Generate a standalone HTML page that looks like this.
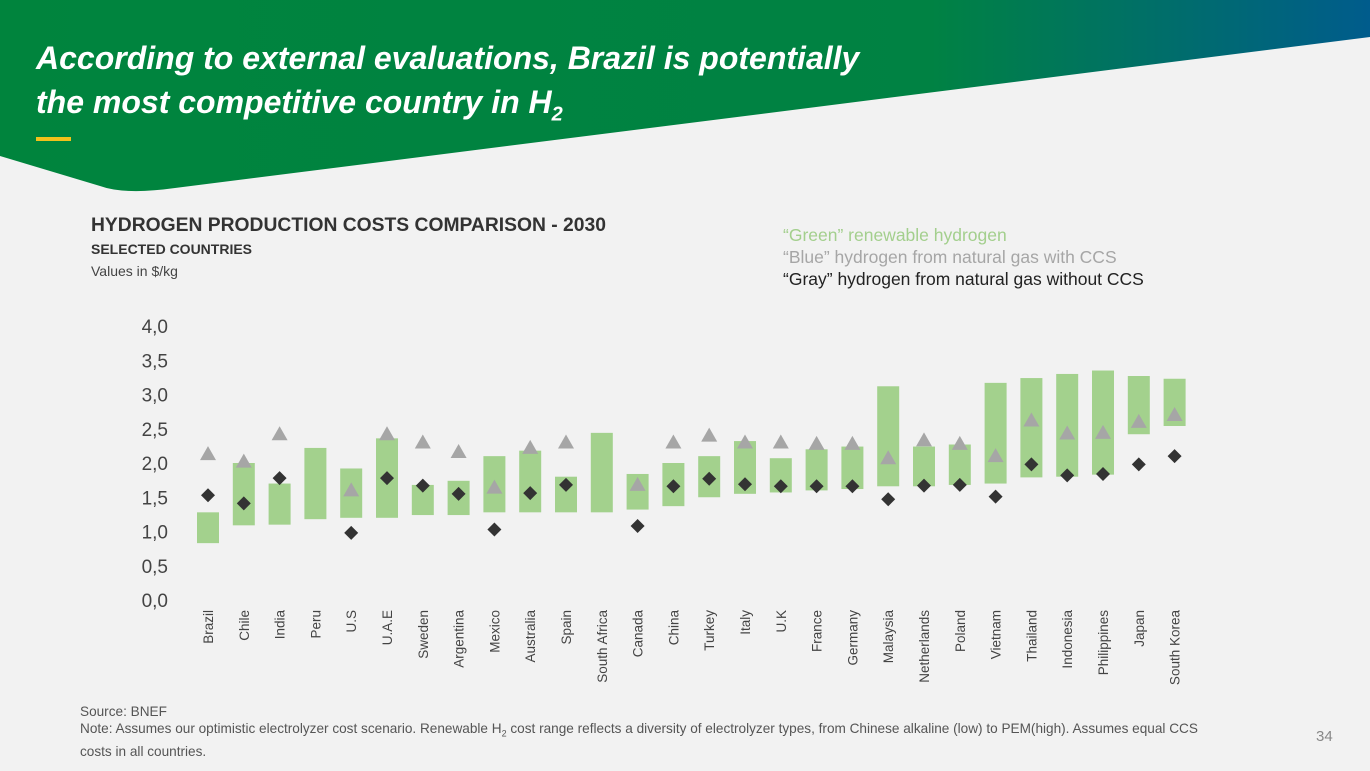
<!DOCTYPE html>
<html><head><meta charset="utf-8"><style>
body{margin:0;width:1370px;height:771px;background:#f2f2f2;overflow:hidden;font-family:"Liberation Sans",sans-serif;position:relative}
.t{position:absolute;margin:0}
</style></head><body>
<svg style="position:absolute;left:0;top:0" width="1370" height="200">
<defs><linearGradient id="g" x1="0" x2="1" y1="0" y2="0"><stop offset="0" stop-color="#00843d"/><stop offset="0.68" stop-color="#008243"/><stop offset="1" stop-color="#005c8c"/></linearGradient></defs>
<path d="M0,0 H1370 V37 L175,188 Q125,195 100,186 L0,156 Z" fill="url(#g)"/>
<rect x="36" y="137" width="35" height="4" fill="#f2c11b"/>
</svg>
<div class="t" style="left:36px;top:36px;color:#fff;font-size:32px;font-weight:bold;font-style:italic;line-height:44px">According to external evaluations, Brazil is potentially<br>the most competitive country in H<sub style="font-size:20px">2</sub></div>
<div class="t" style="left:91px;top:215px;font-size:19.3px;font-weight:bold;color:#333">HYDROGEN PRODUCTION COSTS COMPARISON - 2030</div>
<div class="t" style="left:91px;top:241px;font-size:14px;font-weight:bold;color:#333">SELECTED COUNTRIES</div>
<div class="t" style="left:91px;top:263px;font-size:14px;color:#444">Values in $/kg</div>
<div class="t" style="left:783px;top:225px;font-size:17.5px;color:#a3cf8d">“Green” renewable hydrogen</div>
<div class="t" style="left:783px;top:247px;font-size:17.5px;color:#a6a6a6">“Blue” hydrogen from natural gas with CCS</div>
<div class="t" style="left:783px;top:269px;font-size:17.5px;color:#222">“Gray” hydrogen from natural gas without CCS</div>
<svg id="chart" style="position:absolute;left:0;top:0" width="1370" height="771"></svg>
<div class="t" style="left:80px;top:703px;font-size:13.6px;color:#555;line-height:17px">Source: BNEF<br>Note: Assumes our optimistic electrolyzer cost scenario. Renewable H<sub style="font-size:9px">2</sub> cost range reflects a diversity of electrolyzer types, from Chinese alkaline (low) to PEM(high). Assumes equal CCS<br>costs in all countries.</div>
<div class="t" style="left:1316px;top:728px;font-size:15px;color:#888">34</div>
<script>
const countries=["Brazil","Chile","India","Peru","U.S","U.A.E","Sweden","Argentina","Mexico","Australia","Spain","South Africa","Canada","China","Turkey","Italy","U.K","France","Germany","Malaysia","Netherlands","Poland","Vietnam","Thailand","Indonesia","Philippines","Japan","South Korea"];
const greenLow=[0.83,1.09,1.1,1.18,1.2,1.2,1.24,1.24,1.28,1.28,1.28,1.28,1.32,1.37,1.5,1.55,1.57,1.6,1.62,1.66,1.66,1.68,1.7,1.79,1.8,1.83,2.42,2.54];
const greenHigh=[1.28,2.0,1.7,2.22,1.92,2.36,1.68,1.74,2.1,2.18,1.8,2.44,1.84,2.0,2.1,2.32,2.07,2.2,2.24,3.12,2.24,2.27,3.17,3.24,3.3,3.35,3.27,3.23];
const blue=[2.13,2.02,2.42,null,1.6,2.42,2.3,2.16,1.64,2.22,2.3,null,1.68,2.3,2.4,2.3,2.3,2.28,2.28,2.07,2.33,2.28,2.1,2.62,2.43,2.44,2.6,2.7];
const gray=[1.53,1.41,1.78,null,0.98,1.78,1.67,1.55,1.03,1.56,1.68,null,1.08,1.66,1.77,1.69,1.66,1.66,1.66,1.47,1.67,1.68,1.51,1.98,1.82,1.84,1.98,2.1];
const yTicks=["0,0","0,5","1,0","1,5","2,0","2,5","3,0","3,5","4,0"];
const svg=document.getElementById('chart');const NS='http://www.w3.org/2000/svg';
const y=v=>600-v*68.5;const x=i=>208+i*35.8;
function mk(t,a){const e=document.createElementNS(NS,t);for(const k in a)e.setAttribute(k,a[k]);svg.appendChild(e);return e;}
yTicks.forEach((l,i)=>{const e=mk('text',{x:168,y:y(i*0.5)+7,'text-anchor':'end','font-size':19,fill:'#444','font-family':'Liberation Sans'});e.textContent=l;

});
countries.forEach((c,i)=>{
const r=mk('rect',{x:x(i)-11,y:y(greenHigh[i]),width:22,height:y(greenLow[i])-y(greenHigh[i]),fill:'#a3d18d'});


if(blue[i]!=null){const cx=x(i),cy=y(blue[i]);const t=mk('polygon',{points:`${cx},${cy-8} ${cx+8},${cy+6} ${cx-8},${cy+6}`,fill:'#a6a6a6'});

}
if(gray[i]!=null){const cx=x(i),cy=y(gray[i]);const d=mk('polygon',{points:`${cx},${cy-7} ${cx+7},${cy} ${cx},${cy+7} ${cx-7},${cy}`,fill:'#333'});

}
const tx=mk('text',{transform:`translate(${x(i)+5},610) rotate(-90)`,'text-anchor':'end','font-size':13.5,fill:'#444','font-family':'Liberation Sans'});tx.textContent=c;


});
</script>
</body></html>
